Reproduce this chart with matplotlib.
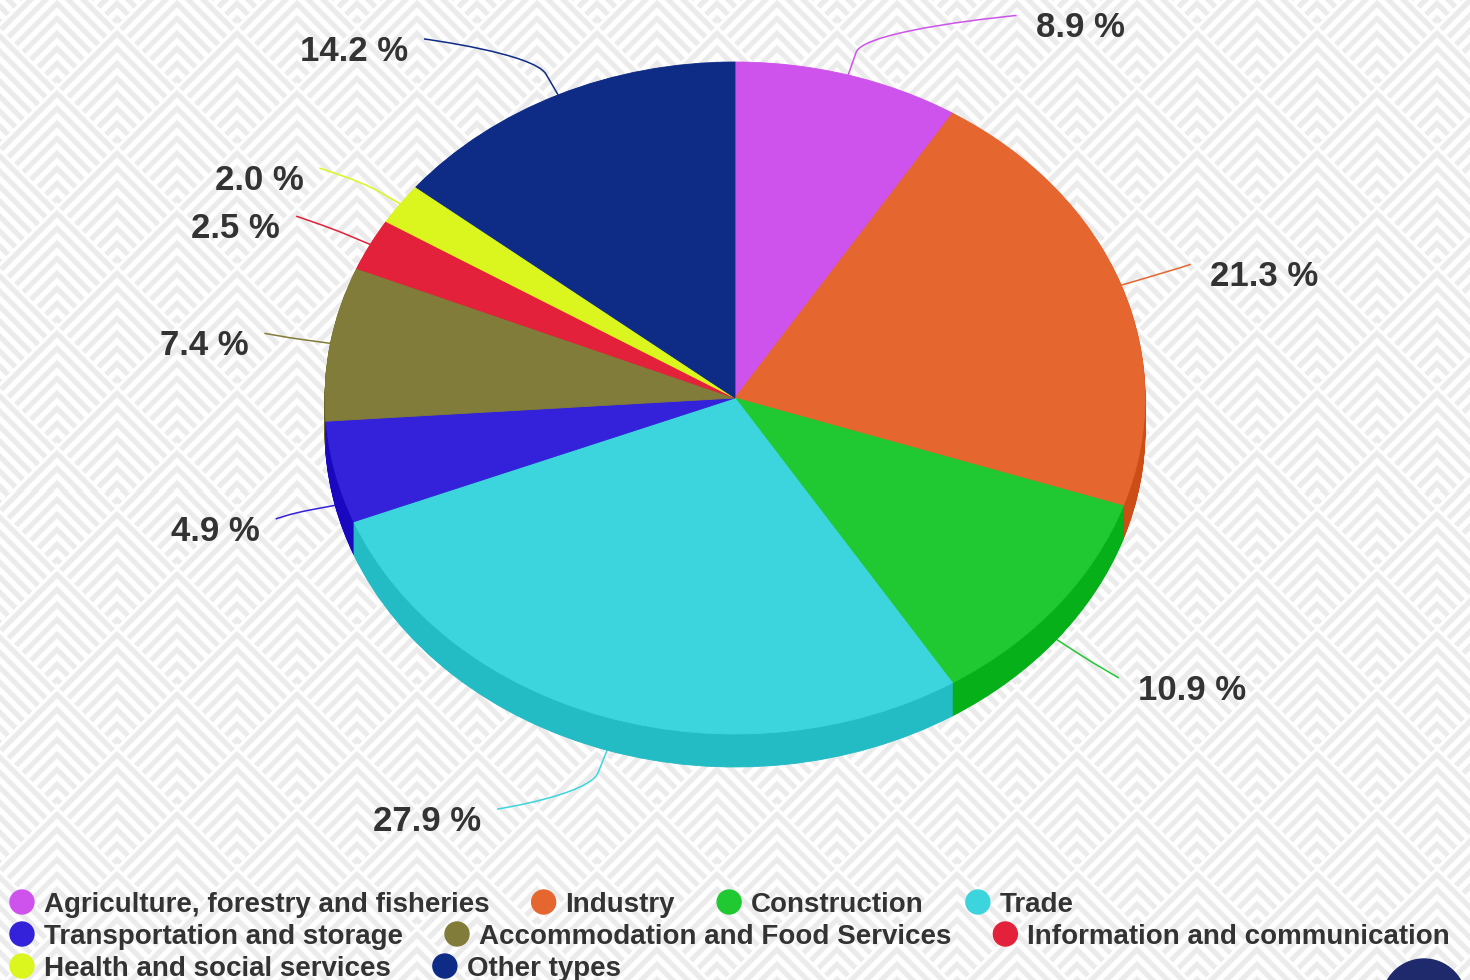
import numpy as np
import matplotlib
matplotlib.use('Agg')
import matplotlib.pyplot as plt
from matplotlib.path import Path
from matplotlib.patches import PathPatch, Circle
from matplotlib.colors import to_rgb

categories = ['Agriculture, forestry and fisheries', 'Industry', 'Construction', 'Trade',
              'Transportation and storage', 'Accommodation and Food Services',
              'Information and communication', 'Health and social services', 'Other types']
shares = [8.9, 21.3, 10.9, 27.9, 4.9, 7.4, 2.5, 2.0, 14.2]
colors = ['#ce53ec', '#e5672f', '#20c932', '#3dd5dd', '#3322d9',
          '#817c39', '#e4213a', '#dbf51e', '#0e2b86']

plt.rcParams['font.family'] = ['Liberation Sans', 'DejaVu Sans']

W, H = 1470, 980
cx, cy, rx, ry, depth = 735, 398, 410, 336, 33   # pie geometry in pixels
text_col = '#333333'


def darker(c, amt=0.1):
    r, g, b = to_rgb(c)
    return (max(r - amt, 0), max(g - amt, 0), max(b - amt, 0))


fig = plt.figure(figsize=(W / 100, H / 100), dpi=100)
ax = fig.add_axes([0, 0, 1, 1])

# background chevron pattern
yy, xx = np.mgrid[0:H, 0:W] + 0.5
fu = (xx + yy - 144) % 120
fw = (yy - xx + 90) % 120
v = np.minimum(fu, fw)
s = 0.5 - 0.5 * np.cos(2 * np.pi * v / 15)
s = np.clip((s - 0.3) / 0.4, 0, 1)
bg = (254 - 19 * s) / 255
ax.imshow(bg, cmap='gray', vmin=0, vmax=1, extent=(0, W, H, 0),
          interpolation='nearest', zorder=0)
ax.set_xlim(0, W)
ax.set_ylim(H, 0)
ax.axis('off')

# 3d-ish pie: stacked darker layers for the side, then the top face
d = depth / ry
pax = fig.add_axes([(cx - rx) / W, 1 - (cy + ry + depth) / H, 2 * rx / W, (2 * ry + depth) / H])
n_layers = 40
for k in range(n_layers, 0, -1):
    wedges, _ = pax.pie(shares, colors=[darker(c) for c in colors], startangle=90,
                        counterclock=False, center=(0, -d * k / n_layers), radius=1)
    for w in wedges:
        w.set_edgecolor(w.get_facecolor())
        w.set_linewidth(0.6)
wedges, _ = pax.pie(shares, colors=colors, startangle=90, counterclock=False, radius=1)
for w in wedges:
    w.set_edgecolor(w.get_facecolor())
    w.set_linewidth(0.6)
pax.set_aspect('auto')
pax.set_xlim(-1, 1)
pax.set_ylim(-1 - d, 1)
pax.axis('off')

# data labels with connectors
cum = np.cumsum(shares)
mids = 2 * np.pi * (cum - np.array(shares) / 2) / 100
for val, col, th in zip(shares, colors, mids):
    sn, cs = np.sin(th), np.cos(th)
    front = depth if cs < 0 else 0
    tx, ty = cx + rx * sn, cy - ry * cs + front
    dv = np.array([rx * sn, -ry * cs])
    dv /= np.hypot(*dv)
    bx, by = tx + 24 * dv[0], ty + 24 * dv[1]
    ly = cy - 398 * cs + front
    lx = cx + np.sign(sn) * np.sqrt(475 ** 2 - (ly - cy) ** 2)
    path = Path([(lx, ly), (lx, ly), (2 * bx - tx, 2 * by - ty), (bx, by), (tx, ty)],
                [Path.MOVETO, Path.CURVE4, Path.CURVE4, Path.CURVE4, Path.LINETO])
    ax.add_patch(PathPatch(path, fill=False, edgecolor=col, lw=1.1, zorder=3))
    if sn > 0:
        ax.text(lx + 19, ly + 22, f'{val:.1f} %', ha='left', va='baseline',
                fontsize=25, fontweight='bold', color=text_col, zorder=4)
    else:
        ax.text(lx - 16, ly + 22, f'{val:.1f} %', ha='right', va='baseline',
                fontsize=25, fontweight='bold', color=text_col, zorder=4)

# legend, flowing left to right like the original
renderer = fig.canvas.get_renderer()
x, row = 10, 0
for name, col in zip(categories, colors):
    t = ax.text(0, 0, name, fontsize=20, fontweight='bold', color=text_col,
                ha='left', va='baseline', zorder=4)
    tw = t.get_window_extent(renderer).width
    if x + 34 + tw > W - 10:
        row += 1
        x = 10
    yc = 902 + 32 * row
    t.set_position((x + 34, yc + 10))
    ax.add_patch(Circle((x + 12, yc), 12, color=col, zorder=4))
    x += 34 + tw + 42

# corner logo
ax.add_patch(Circle((1424, 1001), 42, color='#1e2a6c', zorder=4))

fig.savefig('out.png', dpi=100)
